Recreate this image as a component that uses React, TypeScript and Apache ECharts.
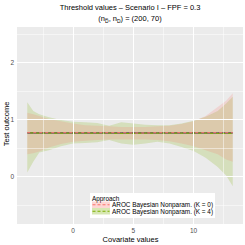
import React, { useEffect, useRef } from "react";
import * as echarts from "echarts";

const FONT = "Liberation Sans, Arial, Helvetica, sans-serif";

const covariate = [-3.8, -3.3, -2.8, -2, -1, 0, 1, 2, 3, 4, 5, 6, 7, 8, 9, 10, 11, 12, 12.7, 13.25];

const k0Upper = [1.12, 1.09, 1.06, 1.01, 0.97, 0.93, 0.9, 0.89, 0.88, 0.87, 0.87, 0.87, 0.88, 0.89, 0.92, 0.97, 1.06, 1.22, 1.33, 1.46];
const k0Lower = [0.39, 0.41, 0.44, 0.51, 0.57, 0.61, 0.63, 0.64, 0.65, 0.65, 0.65, 0.65, 0.64, 0.62, 0.58, 0.53, 0.46, 0.39, 0.3, 0.26];
const k4Upper = [1.3, 1.15, 1.09, 1.04, 0.99, 0.96, 0.95, 0.94, 0.89, 0.95, 0.93, 0.91, 0.9, 0.9, 0.93, 0.98, 1.05, 1.15, 1.28, 1.4];
const k4Lower = [0.07, 0.26, 0.42, 0.46, 0.53, 0.58, 0.59, 0.6, 0.64, 0.58, 0.56, 0.58, 0.61, 0.58, 0.52, 0.45, 0.33, 0.17, 0.02, -0.17];

const k0Estimate = [0.77, 0.77, 0.77, 0.77, 0.77, 0.77, 0.77, 0.77, 0.77, 0.77, 0.765, 0.765, 0.77, 0.77, 0.77, 0.77, 0.77, 0.77, 0.77, 0.77];
const k4Estimate = [0.765, 0.765, 0.76, 0.76, 0.76, 0.76, 0.76, 0.76, 0.76, 0.755, 0.755, 0.76, 0.76, 0.76, 0.76, 0.76, 0.76, 0.755, 0.755, 0.755];
const trueThreshold = 0.764;

const xTicks = [0, 5, 10];
const yTicks = [0, 1, 2];
const xMinorGrid = [-2.5, 2.5, 7.5, 12.5];
const yMinorGrid = [-0.5, 0.5, 1.5, 2.5];

const legendLabels = ["AROC Bayesian Nonparam. (K = 0)", "AROC Bayesian Nonparam. (K = 4)"];

const PINK = "#F8766D";
const GREEN = "#7CAE00";

const pairs = (xs: number[], ys: number[]) => xs.map((x, i) => [x, ys[i]]);

export default function App() {
  const ref = useRef<HTMLDivElement>(null);
  useEffect(() => {
    const chart = echarts.init(ref.current!, null, { renderer: "svg" });
    const gridLines = [
      ...xMinorGrid.map((v) => ({ xAxis: v, lineStyle: { width: 0.5 } })),
      ...xTicks.map((v) => ({ xAxis: v, lineStyle: { width: 1 } })),
      ...yMinorGrid.map((v) => ({ yAxis: v, lineStyle: { width: 0.5 } })),
      ...yTicks.map((v) => ({ yAxis: v, lineStyle: { width: 1 } })),
    ];
    const ribbon = (lower: number[], upper: number[], color: string) => ({
      type: "custom",
      coordinateSystem: "cartesian2d",
      data: covariate.map((x, i) => [x, lower[i], upper[i]]),
      encode: { x: 0, y: [1, 2] },
      silent: true,
      z: 2,
      renderItem: (params: any, api: any) => {
        if (params.dataIndex !== 0) return null;
        const top = covariate.map((x, i) => api.coord([x, upper[i]]));
        const bottom = covariate.map((x, i) => api.coord([x, lower[i]])).reverse();
        return { type: "polygon", shape: { points: [...top, ...bottom] }, style: { fill: color } };
      },
    });
    const option: any = {
      animation: false,
      textStyle: { fontFamily: FONT },
      grid: {
        left: 17,
        top: 27,
        right: 2,
        bottom: 21,
        show: true,
        backgroundColor: "#EBEBEB",
        borderWidth: 0,
        containLabel: false,
        outerBoundsMode: "none",
      },
      xAxis: {
        type: "value",
        min: -4.65,
        max: 14.1,
        splitLine: { show: false },
        axisLine: { show: false },
        axisTick: { show: true, customValues: xTicks, length: 2.5, lineStyle: { color: "#333333", width: 0.6 } },
        axisLabel: { customValues: xTicks, fontSize: 6.5, color: "#4D4D4D", margin: 3, fontFamily: FONT },
      },
      yAxis: {
        type: "value",
        min: -0.83,
        max: 2.62,
        splitLine: { show: false },
        axisLine: { show: false },
        axisTick: { show: true, customValues: yTicks, length: 2.5, lineStyle: { color: "#333333", width: 0.6 } },
        axisLabel: { customValues: yTicks, fontSize: 6.5, color: "#4D4D4D", margin: 3, fontFamily: FONT },
      },
      series: [
        {
          type: "line",
          data: [],
          z: 1,
          silent: true,
          markLine: {
            silent: true,
            symbol: ["none", "none"],
            label: { show: false },
            lineStyle: { color: "#FFFFFF", type: "solid" },
            data: gridLines,
          },
        },
        ribbon(k4Lower, k4Upper, "rgba(124,174,0,0.2)"),
        ribbon(k0Lower, k0Upper, "rgba(248,118,109,0.2)"),
        {
          type: "line",
          data: covariate.map((x) => [x, trueThreshold]),
          symbol: "none",
          lineStyle: { color: "#1a1a1a", width: 1 },
          silent: true,
          z: 3,
        },
        {
          type: "line",
          data: pairs(covariate, k0Estimate),
          symbol: "none",
          lineStyle: { color: PINK, width: 1, type: [3, 3] },
          silent: true,
          z: 4,
        },
        {
          type: "line",
          data: pairs(covariate, k4Estimate),
          symbol: "none",
          lineStyle: { color: GREEN, width: 1, type: [3, 3], dashOffset: 3 },
          silent: true,
          z: 4,
        },
      ],
      graphic: [
        {
          type: "text",
          x: 130,
          y: 7,
          style: { text: "Threshold values – Scenario I – FPF = 0.3", fontSize: 7.5, fill: "#000000", align: "center", verticalAlign: "middle", fontFamily: FONT },
        },
        {
          type: "text",
          x: 130,
          y: 18.5,
          style: {
            text: "{m|(n}{s|D\u0305}{m|, n}{s|D}{m|) = (200, 70)}",
            align: "center",
            verticalAlign: "middle",
            fill: "#000000",
            fontFamily: FONT,
            rich: {
              m: { fontSize: 7.5, lineHeight: 10, verticalAlign: "middle", fontFamily: FONT, fill: "#000000" },
              s: { fontSize: 5, lineHeight: 10, verticalAlign: "bottom", fontFamily: FONT, fill: "#000000" },
            },
          },
        },
        {
          type: "text",
          x: 130.5,
          y: 239.5,
          style: { text: "Covariate values", fontSize: 7.5, fill: "#000000", align: "center", verticalAlign: "middle", fontFamily: FONT },
        },
        {
          type: "text",
          x: 6.5,
          y: 124,
          rotation: Math.PI / 2,
          style: { text: "Test outcome", fontSize: 7.5, fill: "#000000", align: "center", verticalAlign: "middle", fontFamily: FONT },
        },
        { type: "rect", shape: { x: 90, y: 193, width: 125, height: 25 }, style: { fill: "#FFFFFF" }, z: 10 },
        { type: "text", x: 92, y: 198.5, z: 11, style: { text: "Approach", fontSize: 6.4, fill: "#000000", verticalAlign: "middle", fontFamily: FONT } },
        { type: "rect", shape: { x: 92, y: 201.5, width: 18, height: 6.5 }, style: { fill: "rgba(248,118,109,0.3)" }, z: 11 },
        { type: "line", shape: { x1: 92.5, y1: 204.75, x2: 109.5, y2: 204.75 }, style: { stroke: PINK, lineWidth: 1, lineDash: [3, 2] }, z: 12 },
        { type: "text", x: 112, y: 204.75, z: 11, style: { text: legendLabels[0], fontSize: 6.4, fill: "#000000", verticalAlign: "middle", fontFamily: FONT } },
        { type: "rect", shape: { x: 92, y: 208, width: 18, height: 6.5 }, style: { fill: "rgba(124,174,0,0.3)" }, z: 11 },
        { type: "line", shape: { x1: 92.5, y1: 211.25, x2: 109.5, y2: 211.25 }, style: { stroke: GREEN, lineWidth: 1, lineDash: [3, 2] }, z: 12 },
        { type: "text", x: 112, y: 211.25, z: 11, style: { text: legendLabels[1], fontSize: 6.4, fill: "#000000", verticalAlign: "middle", fontFamily: FONT } },
      ],
    };
    chart.setOption(option);
    return () => chart.dispose();
  }, []);
  return <div ref={ref} style={{ width: 245, height: 245, position: "absolute", left: 0, top: 0 }} />;
}
